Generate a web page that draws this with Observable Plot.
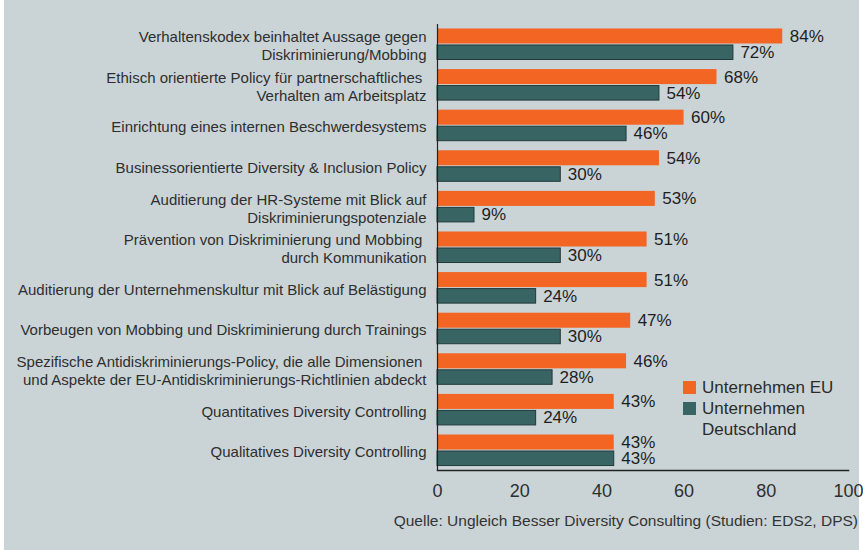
<!DOCTYPE html>
<html>
<head>
<meta charset="utf-8">
<script src="https://cdn.jsdelivr.net/npm/d3@7"></script>
<script src="https://cdn.jsdelivr.net/npm/@observablehq/plot@0.6"></script>
<style>
  html, body { margin: 0; padding: 0; background: #ffffff; }
  #wrap { position: relative; width: 863px; height: 550px; overflow: hidden; font-family: "Liberation Sans", Arial, sans-serif; }
  #panel { position: absolute; left: 4px; top: 0; width: 855px; height: 550px; background: #cad4d7; }
  #chart { position: absolute; left: 0; top: 0; }
  .leg { position: absolute; font-size: 17px; color: #2b2b2b; line-height: 21px; }
  .sw { position: absolute; width: 13px; height: 13px; }
  #caption { position: absolute; right: 5px; top: 512px; font-size: 15.5px; color: #333; white-space: nowrap; }
</style>
</head>
<body>
<div id="wrap">
  <div id="panel"></div>
  <div id="chart"></div>
  <div class="sw" style="left:683px;top:381px;background:#f26522"></div>
  <div class="leg" style="left:702px;top:377px">Unternehmen EU</div>
  <div class="sw" style="left:683px;top:402px;background:#386464"></div>
  <div class="leg" style="left:702px;top:398px">Unternehmen<br>Deutschland</div>
  <div id="caption">Quelle: Ungleich Besser Diversity Consulting (Studien: EDS2, DPS)</div>
</div>
<script>
const categories = [
  "Verhaltenskodex beinhaltet Aussage gegen\nDiskriminierung/Mobbing",
  "Ethisch orientierte Policy für partnerschaftliches \nVerhalten am Arbeitsplatz",
  "Einrichtung eines internen Beschwerdesystems",
  "Businessorientierte Diversity & Inclusion Policy",
  "Auditierung der HR-Systeme mit Blick auf\nDiskriminierungspotenziale",
  "Prävention von Diskriminierung und Mobbing \ndurch Kommunikation",
  "Auditierung der Unternehmenskultur mit Blick auf Belästigung",
  "Vorbeugen von Mobbing und Diskriminierung durch Trainings",
  "Spezifische Antidiskriminierungs-Policy, die alle Dimensionen \nund Aspekte der EU-Antidiskriminierungs-Richtlinien abdeckt",
  "Quantitatives Diversity Controlling",
  "Qualitatives Diversity Controlling"
];
const euValues = [84, 68, 60, 54, 53, 51, 51, 47, 46, 43, 43];
const deValues = [72, 54, 46, 30, 9, 30, 24, 30, 28, 24, 43];
const xTicks = [0, 20, 40, 60, 80, 100];

const data = categories.map((c, i) => ({cat: c, eu: euValues[i], de: deValues[i]}));

const chart = Plot.plot({
  width: 863,
  height: 550,
  marginLeft: 437,
  marginRight: 15,
  marginTop: 24,
  marginBottom: 80,
  style: {background: "transparent", fontFamily: "'Liberation Sans', Arial, sans-serif", color: "#2b2b2b"},
  x: {domain: [0, 100], ticks: xTicks, label: null},
  y: {domain: categories, paddingInner: 0.236, paddingOuter: 0.11, round: false, axis: null, label: null},
  marks: [
    Plot.barX(data, {x: "eu", y: "cat", fill: "#f26522", insetBottom: 16}),
    Plot.barX(data, {x: "de", y: "cat", fill: "#386464", stroke: "#233a3a", strokeWidth: 1, insetTop: 16.5}),
    Plot.text(data, {x: "eu", y: "cat", text: d => d.eu + "%", dx: 7, dy: -8, textAnchor: "start", fontSize: 17, fill: "#1e1e1e"}),
    Plot.text(data, {x: "de", y: "cat", text: d => d.de + "%", dx: 7, dy: 8, textAnchor: "start", fontSize: 17, fill: "#1e1e1e"}),
    Plot.text(categories, {y: d => d, text: d => d, frameAnchor: "left", dx: -11, dy: 1, textAnchor: "end", fontSize: 15, lineHeight: 1.2, fill: "#2e2e2e"}),
    Plot.ruleX([0], {stroke: "#222", strokeWidth: 1.2}),
    Plot.frame({anchor: "bottom", stroke: "#222", strokeWidth: 1.5}),
    Plot.axisX({ticks: xTicks, tickSize: 0, tickPadding: 14, fontSize: 18, label: null, fill: "#2e2e2e"})
  ]
});
document.getElementById("chart").appendChild(chart);
</script>
</body>
</html>
